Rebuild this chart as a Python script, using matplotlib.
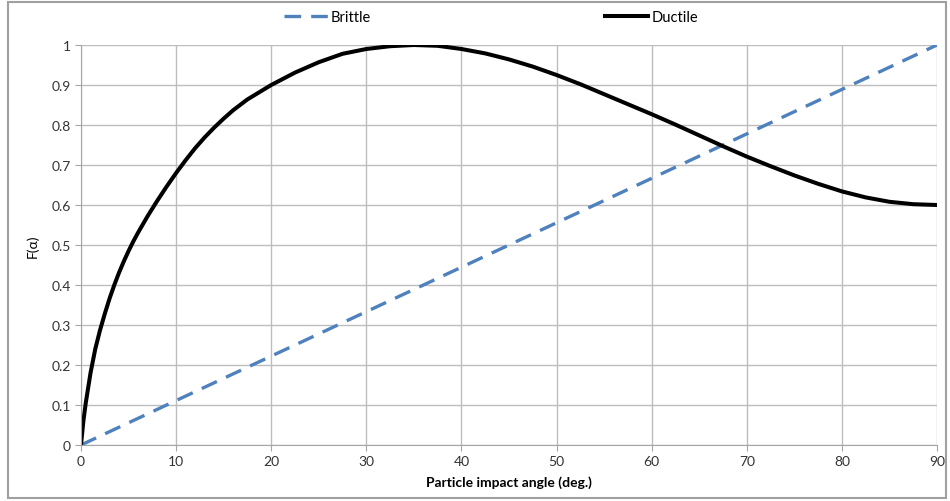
import matplotlib.pyplot as plt
from matplotlib.patches import Rectangle

plt.rcParams['font.family'] = ['Lato', 'DejaVu Sans']

# brittle: straight line read at the ends
brittle_x = [0, 90]
brittle_y = [0, 1]

# ductile curve
ductile_x = [0, 0.25, 0.5, 1, 1.5, 2, 2.5, 3, 3.5, 4, 4.5, 5, 5.5, 6, 7, 8, 9, 10,
             11, 12, 13, 14, 15, 16, 17.5, 20, 22.5, 25, 27.5, 30, 32.5, 35, 37.5,
             40, 42.5, 45, 47.5, 50, 52.5, 55, 57.5, 60, 62.5, 65, 67.5, 70, 72.5,
             75, 77.5, 80, 82.5, 85, 87.5, 90]
ductile_y = [0, 0.06, 0.105, 0.18, 0.24, 0.287, 0.328, 0.366, 0.4, 0.431, 0.459,
             0.485, 0.509, 0.531, 0.572, 0.61, 0.646, 0.68, 0.712, 0.742, 0.769,
             0.7935, 0.816, 0.837, 0.864, 0.9, 0.931, 0.957, 0.978, 0.99, 0.997,
             1.0, 0.998, 0.99, 0.979, 0.964, 0.946, 0.925, 0.902, 0.877, 0.852,
             0.827, 0.801, 0.774, 0.747, 0.721, 0.697, 0.674, 0.653, 0.634, 0.619,
             0.608, 0.602, 0.6]

xticks = list(range(0, 91, 10))
yticks = [0, 0.1, 0.2, 0.3, 0.4, 0.5, 0.6, 0.7, 0.8, 0.9, 1]
ytick_labels = ['0', '0.1', '0.2', '0.3', '0.4', '0.5', '0.6', '0.7', '0.8', '0.9', '1']

fig = plt.figure(figsize=(9.5, 5.02), dpi=100)
ax = fig.add_axes([81/950, 1-446/502, 856/950, 400/502])

ax.plot(brittle_x, brittle_y, color='#4f81bd', lw=2.4, dashes=(5, 3), label='Brittle')
ax.plot(ductile_x, ductile_y, color='black', lw=2.9, label='Ductile',
        solid_joinstyle='round')

ax.set_xlim(0, 90)
ax.set_ylim(0, 1)
ax.set_xticks(xticks)
ax.set_yticks(yticks)
ax.set_yticklabels(ytick_labels)
ax.grid(True, color='#bdbdbd', lw=1)
ax.set_axisbelow(True)
for s in ['top', 'right']:
    ax.spines[s].set_visible(False)
for s in ['left', 'bottom']:
    ax.spines[s].set_color('#a6a6a6')
ax.tick_params(colors='#a6a6a6', labelcolor='#333333', length=4, labelsize=10)

ax.set_xlabel('Particle impact angle (deg.)', fontsize=10, fontweight='bold', labelpad=6)
ax.set_ylabel('F(α)', fontsize=10, labelpad=9)

fig.legend(loc='center', bbox_to_anchor=(0.517, 1-18/502), ncol=2, frameon=False,
           fontsize=10.5, handlelength=3.0, handletextpad=0.2, columnspacing=16)

fig.add_artist(Rectangle((8/950, 3/502), 938/950, 496/502, transform=fig.transFigure,
                         fill=False, edgecolor='#a0a0a0', lw=1.5))

plt.savefig('out.png', dpi=100)
